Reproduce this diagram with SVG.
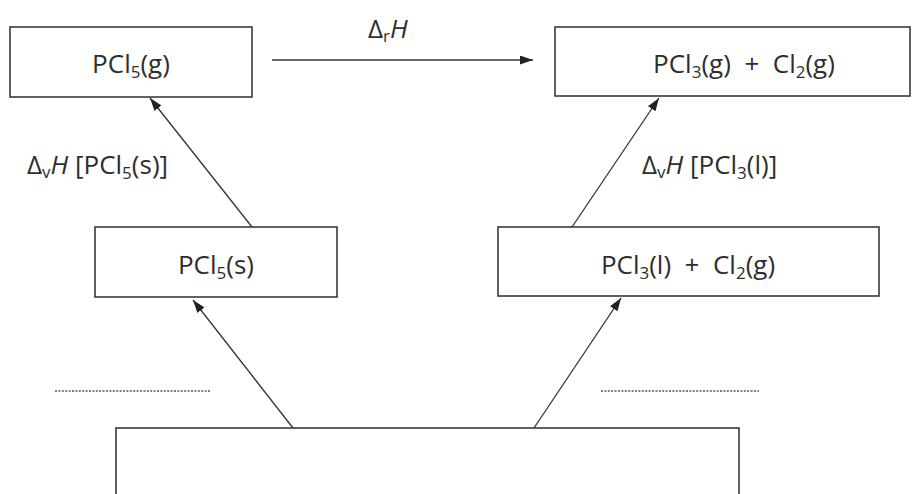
<svg xmlns="http://www.w3.org/2000/svg" width="924" height="494" viewBox="0 0 924 494">
<style>
.box{fill:#fff;stroke:#3a3a3a;stroke-width:1.6}
.t{font-family:"Open Sans","Noto Sans","Liberation Sans",sans-serif;font-size:26px;fill:#2e2e2e;white-space:pre}
.s{font-size:17px}
.i{font-style:italic}
.ln{stroke:#333;stroke-width:1.3;fill:none}
.dot{stroke:#555;stroke-width:1.3;stroke-dasharray:2 1.4}
</style>
<defs>
<marker id="ah" markerUnits="userSpaceOnUse" markerWidth="14" markerHeight="10" refX="13" refY="4.5" orient="auto">
<path d="M0,0 L13,4.5 L0,9 z" fill="#222"/>
</marker>
</defs>
<rect width="924" height="494" fill="#fff"/>
<g id="connectors">
<line class="ln" x1="272" y1="60" x2="533" y2="60" marker-end="url(#ah)"/>
<line class="ln" x1="252" y1="227" x2="150" y2="98" marker-end="url(#ah)"/>
<line class="ln" x1="293" y1="428" x2="193" y2="300" marker-end="url(#ah)"/>
<line class="ln" x1="572" y1="227" x2="659" y2="98" marker-end="url(#ah)"/>
<line class="ln" x1="534" y1="428" x2="621" y2="298" marker-end="url(#ah)"/>
<line class="dot" x1="55" y1="391" x2="210" y2="391"/>
<line class="dot" x1="601" y1="391" x2="759" y2="391"/>
</g>
<g id="label-drH"><text class="t" x="368" y="38">Δ<tspan class="s" dy="4">r</tspan><tspan class="i" dy="-4">H</tspan></text></g>
<g id="label-dvH-PCl5"><text class="t" x="27" y="174">Δ<tspan class="s" dy="4">v</tspan><tspan class="i" dy="-4">H</tspan> [PCl<tspan class="s" dy="5">5</tspan><tspan dy="-5">(s)]</tspan></text></g>
<g id="label-dvH-PCl3"><text class="t" x="642" y="174">Δ<tspan class="s" dy="4">v</tspan><tspan class="i" dy="-4">H</tspan> [PCl<tspan class="s" dy="5">3</tspan><tspan dy="-5">(l)]</tspan></text></g>
<g id="node-PCl5g">
<rect class="box" x="10" y="27" width="242" height="70"/>
<text class="t" x="131" y="73" text-anchor="middle">PCl<tspan class="s" dy="5">5</tspan><tspan dy="-5">(g)</tspan></text>
</g>
<g id="node-PCl3g-Cl2g">
<rect class="box" x="555" y="27" width="355" height="69"/>
<text class="t" x="744" y="73" text-anchor="middle">PCl<tspan class="s" dy="5">3</tspan><tspan dy="-5">(g)  +  Cl</tspan><tspan class="s" dy="5">2</tspan><tspan dy="-5">(g)</tspan></text>
</g>
<g id="node-PCl5s">
<rect class="box" x="95" y="227" width="242" height="70"/>
<text class="t" x="216" y="274" text-anchor="middle">PCl<tspan class="s" dy="5">5</tspan><tspan dy="-5">(s)</tspan></text>
</g>
<g id="node-PCl3l-Cl2g">
<rect class="box" x="498" y="227" width="381" height="69"/>
<text class="t" x="688" y="274" text-anchor="middle">PCl<tspan class="s" dy="5">3</tspan><tspan dy="-5">(l)  +  Cl</tspan><tspan class="s" dy="5">2</tspan><tspan dy="-5">(g)</tspan></text>
</g>
<g id="node-bottom">
<rect class="box" x="116" y="428" width="623" height="90"/>
</g>
</svg>
